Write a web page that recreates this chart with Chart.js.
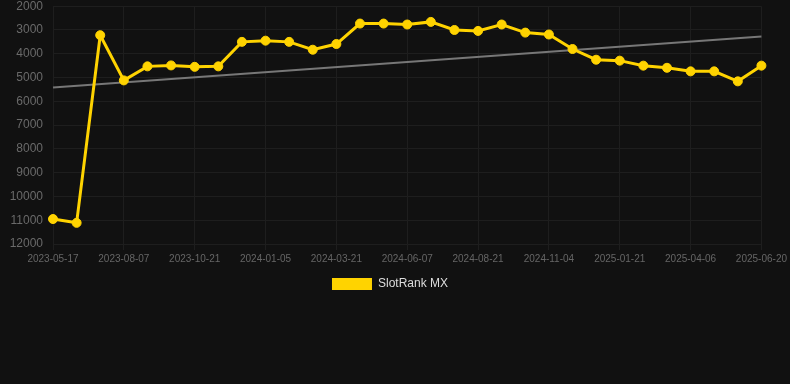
<!DOCTYPE html>
<html>
<head>
<meta charset="utf-8">
<script src="https://cdn.jsdelivr.net/npm/chart.js@4"></script>
<style>
html,body{margin:0;padding:0;background:#111111;overflow:hidden;}
#wrap{position:relative;width:790px;height:304px;margin-top:-4px;}
</style>
</head>
<body>
<div id="wrap"><canvas id="c"></canvas></div>
<script>
const labels = ['2023-05-17','2023-06-13','2023-07-10','2023-08-07','2023-08-31','2023-09-26','2023-10-21','2023-11-15','2023-12-11','2024-01-05','2024-01-30','2024-02-25','2024-03-21','2024-04-16','2024-05-12','2024-06-07','2024-07-02','2024-07-27','2024-08-21','2024-09-15','2024-10-10','2024-11-04','2024-11-30','2024-12-26','2025-01-21','2025-02-15','2025-03-12','2025-04-06','2025-05-01','2025-05-26','2025-06-20'];
const rankValues = [10950,11110,3220,5120,4530,4490,4550,4530,3500,3450,3500,3830,3590,2730,2730,2770,2660,3000,3040,2770,3110,3190,3800,4250,4290,4500,4590,4740,4740,5160,4500];
const trendStart = 5420;
const trendEnd = 3270;
const seriesName = 'SlotRank MX';

Chart.defaults.font.family = '"Liberation Sans", Arial, sans-serif';

new Chart(document.getElementById('c'), {
  type: 'line',
  data: {
    labels: labels,
    datasets: [
      {
        label: seriesName,
        data: rankValues,
        borderColor: '#FFD300',
        backgroundColor: '#FFD300',
        borderWidth: 3,
        pointRadius: 4.5,
        pointHoverRadius: 4.5,
        pointBorderWidth: 1,
        pointBackgroundColor: '#FFD300',
        pointBorderColor: '#FFD300',
        tension: 0
      },
      {
        label: 'trend',
        data: [{x: labels[0], y: trendStart}, {x: labels[labels.length-1], y: trendEnd}],
        borderColor: '#777777',
        backgroundColor: '#777777',
        borderWidth: 2,
        pointRadius: 0,
        tension: 0
      }
    ]
  },
  options: {
    responsive: true,
    maintainAspectRatio: false,
    animation: false,
    layout: {padding: {top: 0, left: 0, right: 10, bottom: 0}},
    plugins: {
      legend: {
        position: 'bottom',
        labels: {
          color: '#dddddd',
          font: {size: 12},
          boxWidth: 40,
          boxHeight: 12,
          filter: (item) => item.text !== 'trend',
          generateLabels: (chart) => {
            const items = Chart.defaults.plugins.legend.labels.generateLabels(chart);
            items.forEach(it => { it.lineWidth = 0; it.strokeStyle = 'rgba(0,0,0,0)'; });
            return items;
          }
        }
      },
      tooltip: {enabled: false}
    },
    scales: {
      x: {
        ticks: {
          color: '#666666',
          font: {size: 10},
          maxRotation: 0,
          autoSkip: false,
          callback: function(v, i) { return i % 3 === 0 ? this.getLabelForValue(v) : null; }
        },
        grid: {color: '#1e1e1e', drawTicks: true, tickLength: 6},
        border: {color: '#1e1e1e'}
      },
      y: {
        reverse: true,
        min: 2000,
        max: 12000,
        afterFit: (scale) => { scale.width = 53; },
        ticks: {
          stepSize: 1000,
          color: '#6a6a6a',
          font: {size: 12},
          padding: 3,
          callback: (v) => String(v)
        },
        grid: {color: '#1e1e1e', drawTicks: true, tickLength: 7, tickColor: 'rgba(0,0,0,0)'},
        border: {display: false}
      }
    }
  }
});
</script>
</body>
</html>
